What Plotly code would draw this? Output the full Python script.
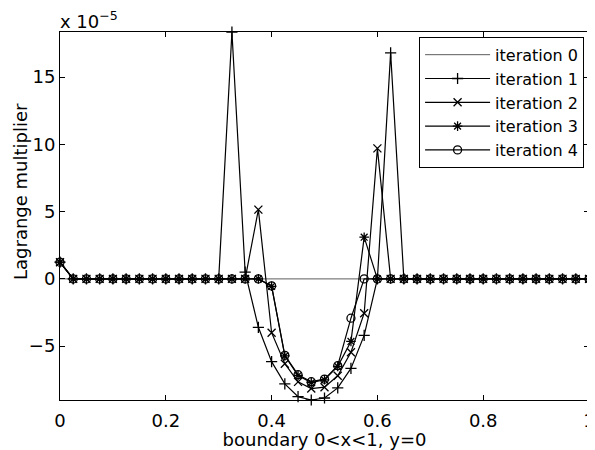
import plotly.graph_objects as go

# x positions along the boundary (41 nodes, step 0.025)
x_nodes = [round(i * 0.025, 3) for i in range(41)]

# Lagrange multiplier values (units of 1e-5)
iter0 = [0.0] * 41
iter1 = [1.24] + [0.0] * 11 + [0.0, 18.35, 0.5, -3.6, -6.15, -7.8, -8.75, -9.0, -8.85, -8.1, -6.65, -4.2, 0.0, 16.8, 0.0] + [0.0] * 14
iter2 = [1.24] + [0.0] * 11 + [0.0, 0.0, 0.0, 5.15, -4.0, -6.3, -7.65, -8.15, -8.05, -7.2, -5.45, -2.55, 9.7, 0.0, 0.0] + [0.0] * 14
iter3 = [1.24] + [0.0] * 11 + [0.0, 0.0, 0.0, 0.0, -0.55, -5.72, -7.18, -7.7, -7.5, -6.5, -4.65, 3.1, 0.0, 0.0, 0.0] + [0.0] * 14
iter4 = [1.24] + [0.0] * 11 + [0.0, 0.0, 0.0, 0.0, -0.52, -5.68, -7.12, -7.64, -7.45, -6.45, -2.92, 0.0, 0.0, 0.0, 0.0] + [0.0] * 14

series = [
    ("iteration 0", iter0, None),
    ("iteration 1", iter1, "cross-thin"),
    ("iteration 2", iter2, "x-thin"),
    ("iteration 3", iter3, "asterisk"),
    ("iteration 4", iter4, "circle-open"),
]

x_ticks = [0, 0.2, 0.4, 0.6, 0.8, 1]
y_ticks = [-5, 0, 5, 10, 15]

FONT = "DejaVu Sans"

fig = go.Figure()
for name, vals, sym in series:
    if sym is None:
        fig.add_trace(go.Scatter(
            x=x_nodes, y=vals, name=name, mode="lines",
            line=dict(color="#333333", width=0.8), cliponaxis=False))
    else:
        fig.add_trace(go.Scatter(
            x=x_nodes, y=vals, name=name, mode="lines+markers",
            line=dict(color="black", width=1.2),
            marker=dict(symbol=sym, size=8, color="black",
                        line=dict(color="black", width=1.3)),
            cliponaxis=False))

# The page body adds an 8px offset; the figure is sized to fill the rest.
fig.update_layout(
    width=587, height=442,
    margin=dict(l=52, r=0, t=24, b=50),
    paper_bgcolor="white", plot_bgcolor="white",
    font=dict(family=FONT, size=18, color="black"),
    showlegend=True,
    legend=dict(
        x=0.9907, xanchor="right", y=0.987, yanchor="top",
        bordercolor="black", borderwidth=1, bgcolor="white",
        font=dict(family=FONT, size=16, color="black"),
        itemwidth=65,
    ),
    xaxis=dict(
        range=[0, 1], tickvals=x_ticks, ticktext=[str(v) for v in x_ticks],
        ticks="inside", ticklen=5, tickcolor="black",
        showline=True, linecolor="black", linewidth=1, mirror="ticks",
        showgrid=False, zeroline=False, ticklabelstandoff=4,
        ticklabeloverflow="allow",
        title=dict(text="boundary 0<x<1, y=0", standoff=0,
                   font=dict(family=FONT, size=18)),
    ),
    yaxis=dict(
        range=[-9.0, 18.35], tickvals=y_ticks,
        ticks="inside", ticklen=5, tickcolor="black",
        showline=True, linecolor="black", linewidth=1, mirror="ticks",
        showgrid=False, zeroline=False,
    ),
    annotations=[
        dict(text="x 10<sup>−5</sup>", xref="paper", yref="paper",
             x=0, y=1, xanchor="left", yanchor="bottom", showarrow=False,
             font=dict(family=FONT, size=18), xshift=-2, yshift=-2),
        dict(text="Lagrange multiplier", xref="paper", yref="paper",
             x=0, y=0.5652, xanchor="center", yanchor="middle", textangle=-90,
             showarrow=False, font=dict(family=FONT, size=18), xshift=-40),
    ],
)

fig.write_html("out.html")
